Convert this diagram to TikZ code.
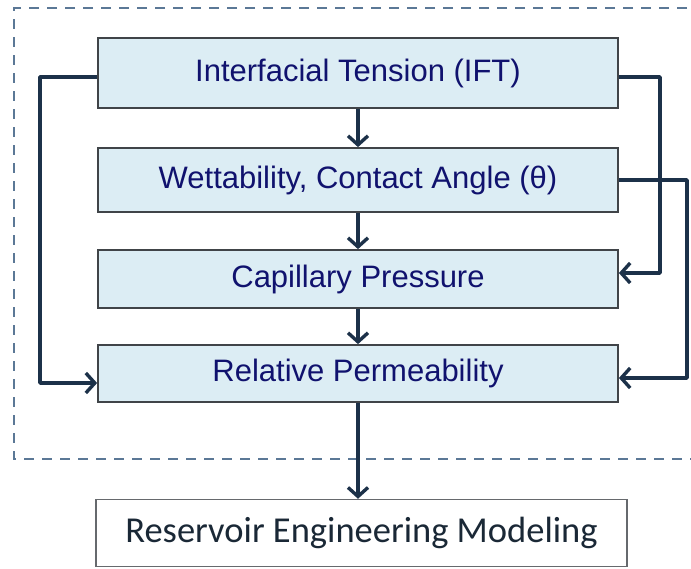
\documentclass[tikz,border=0pt]{standalone}
\usepackage{fontspec}
\setmainfont{Liberation Sans}
\newfontfamily\calfont{Carlito}
\usetikzlibrary{arrows.meta}

\definecolor{boxfill}{HTML}{DCEDF4}
\definecolor{boxline}{HTML}{404448}
\definecolor{txtnavy}{HTML}{10126E}
\definecolor{flowcol}{HTML}{1C3149}
\definecolor{dashcol}{HTML}{5B7896}
\definecolor{modtxt}{HTML}{1A2836}

\begin{document}
\begin{tikzpicture}[x=1pt,y=-1pt,
    propbox/.style={draw=boxline, line width=1.8pt, fill=boxfill, text=txtnavy,
      minimum width=520pt, inner sep=0pt, font=\fontsize{31}{36}\selectfont},
    flow/.style={draw=flowcol, line width=3.4pt, line join=round,
      -{Straight Barb[length=9pt,width=20pt,line width=3.4pt]}}]
      \useasboundingbox (0,0) rectangle (691,568);
      % dashed frame, right side runs off the page
      \draw[dashcol, line width=1.6pt, dash pattern=on 10pt off 8pt]
        (705,8) -- (14,8) -- (14,459) -- (705,459);
      \node[propbox, minimum height=70pt] (ift) at (358,73) {Interfacial Tension (IFT)};
      \node[propbox, minimum height=64pt] (wet) at (358,180) {Wettability, Contact Angle (θ)};
      \node[propbox, minimum height=58pt] (cap) at (358,279) {Capillary Pressure};
      \node[propbox, minimum height=57pt] (relperm) at (358,373.5) {Relative Permeability};
      \node[draw=boxline!80, line width=1.5pt, fill=white, text=modtxt, minimum width=531pt,
        minimum height=67pt, inner sep=0pt, font=\calfont\fontsize{36.5}{40}\selectfont]
        (resmod) at (361.5,533) {Reservoir Engineering Modeling};
      \draw[flow] (ift) -- (wet);
      \draw[flow] (wet) -- (cap);
      \draw[flow] (cap) -- (relperm);
      \draw[flow] (relperm) -- (relperm |- resmod.north);
      \coordinate (lft) at (40,383);
      \coordinate (rgtA) at (660,273);
      \coordinate (rgtB) at (687,378);
      \draw[flow] ([yshift=-4pt]ift.west) -| (lft) -- (lft -| relperm.west);
      \draw[flow] ([yshift=-4pt]ift.east) -| (rgtA) -- (rgtA -| cap.east);
      \draw[flow] (wet.east) -| (rgtB) -- (rgtB -| relperm.east);
\end{tikzpicture}
\end{document}
